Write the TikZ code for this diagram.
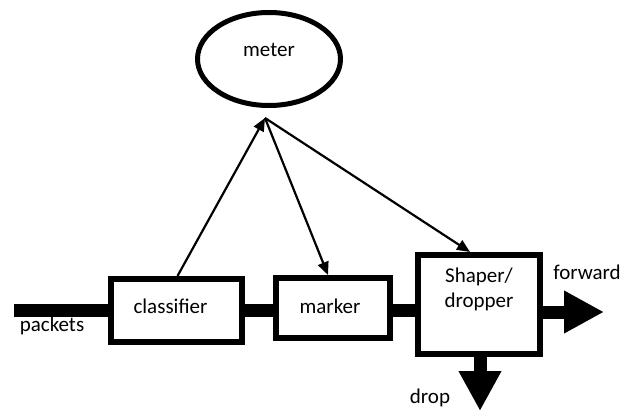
\documentclass[tikz,border=0pt]{standalone}
\usepackage{fontspec}
\setmainfont{Carlito}
\usetikzlibrary{arrows.meta,shapes.geometric}

\begin{document}
\begin{tikzpicture}[x=1pt,y=-1pt,
    font=\fontsize{21}{25}\selectfont,
    stagebox/.style={draw,line width=6pt,rectangle,inner sep=0pt},
    pipe/.style={line width=13pt},
    bigarrow/.style={line width=13pt,-{Triangle[length=40pt,width=40pt]}},
    feed/.style={line width=2.2pt,-{Triangle[length=13pt,width=11pt]}}]
    \useasboundingbox (0,0) rectangle (629,412);
    \node[draw,ellipse,line width=5pt,minimum width=143pt,minimum height=93pt,text depth=18pt] (meter) at (269,59) {meter};
    \coordinate (tap) at (265,118);
    \node[stagebox,minimum width=131pt,minimum height=63pt,text depth=8pt] (classifier) at (176.5,310.5) {\hspace*{-12pt}classifier};
    \node[stagebox,minimum width=114pt,minimum height=60pt,text depth=4pt] (marker) at (333,308) {\hspace*{-6pt}marker};
    \node[stagebox,minimum width=122pt,minimum height=99pt,align=center,text depth=34pt] (shaper) at (479,304.5) {Shaper/\\dropper};
    \coordinate (inlet) at (14,310);
    \coordinate (outlet) at (604,312);
    \coordinate (sink) at (480,411);
    \draw[pipe] (inlet) -- (classifier.west |- inlet);
    \draw[pipe] (classifier.east |- inlet) -- (marker.west |- inlet);
    \draw[pipe] (marker.east |- inlet) -- (shaper.west |- inlet);
    \draw[bigarrow] (shaper.east |- outlet) -- (outlet);
    \draw[bigarrow] (shaper.south -| sink) -- (sink);
    \draw[feed] ([xshift=1pt]classifier.north) -- (tap);
    \draw[feed] (tap) -- ([xshift=-5pt]marker.north);
    \draw[feed] (tap) -- ([xshift=-9pt]shaper.north);
    \node (packets) at (52,326) {packets};
    \node (forward) at (587,272) {forward};
    \node (drop) at (430,398) {drop};
\end{tikzpicture}
\end{document}
